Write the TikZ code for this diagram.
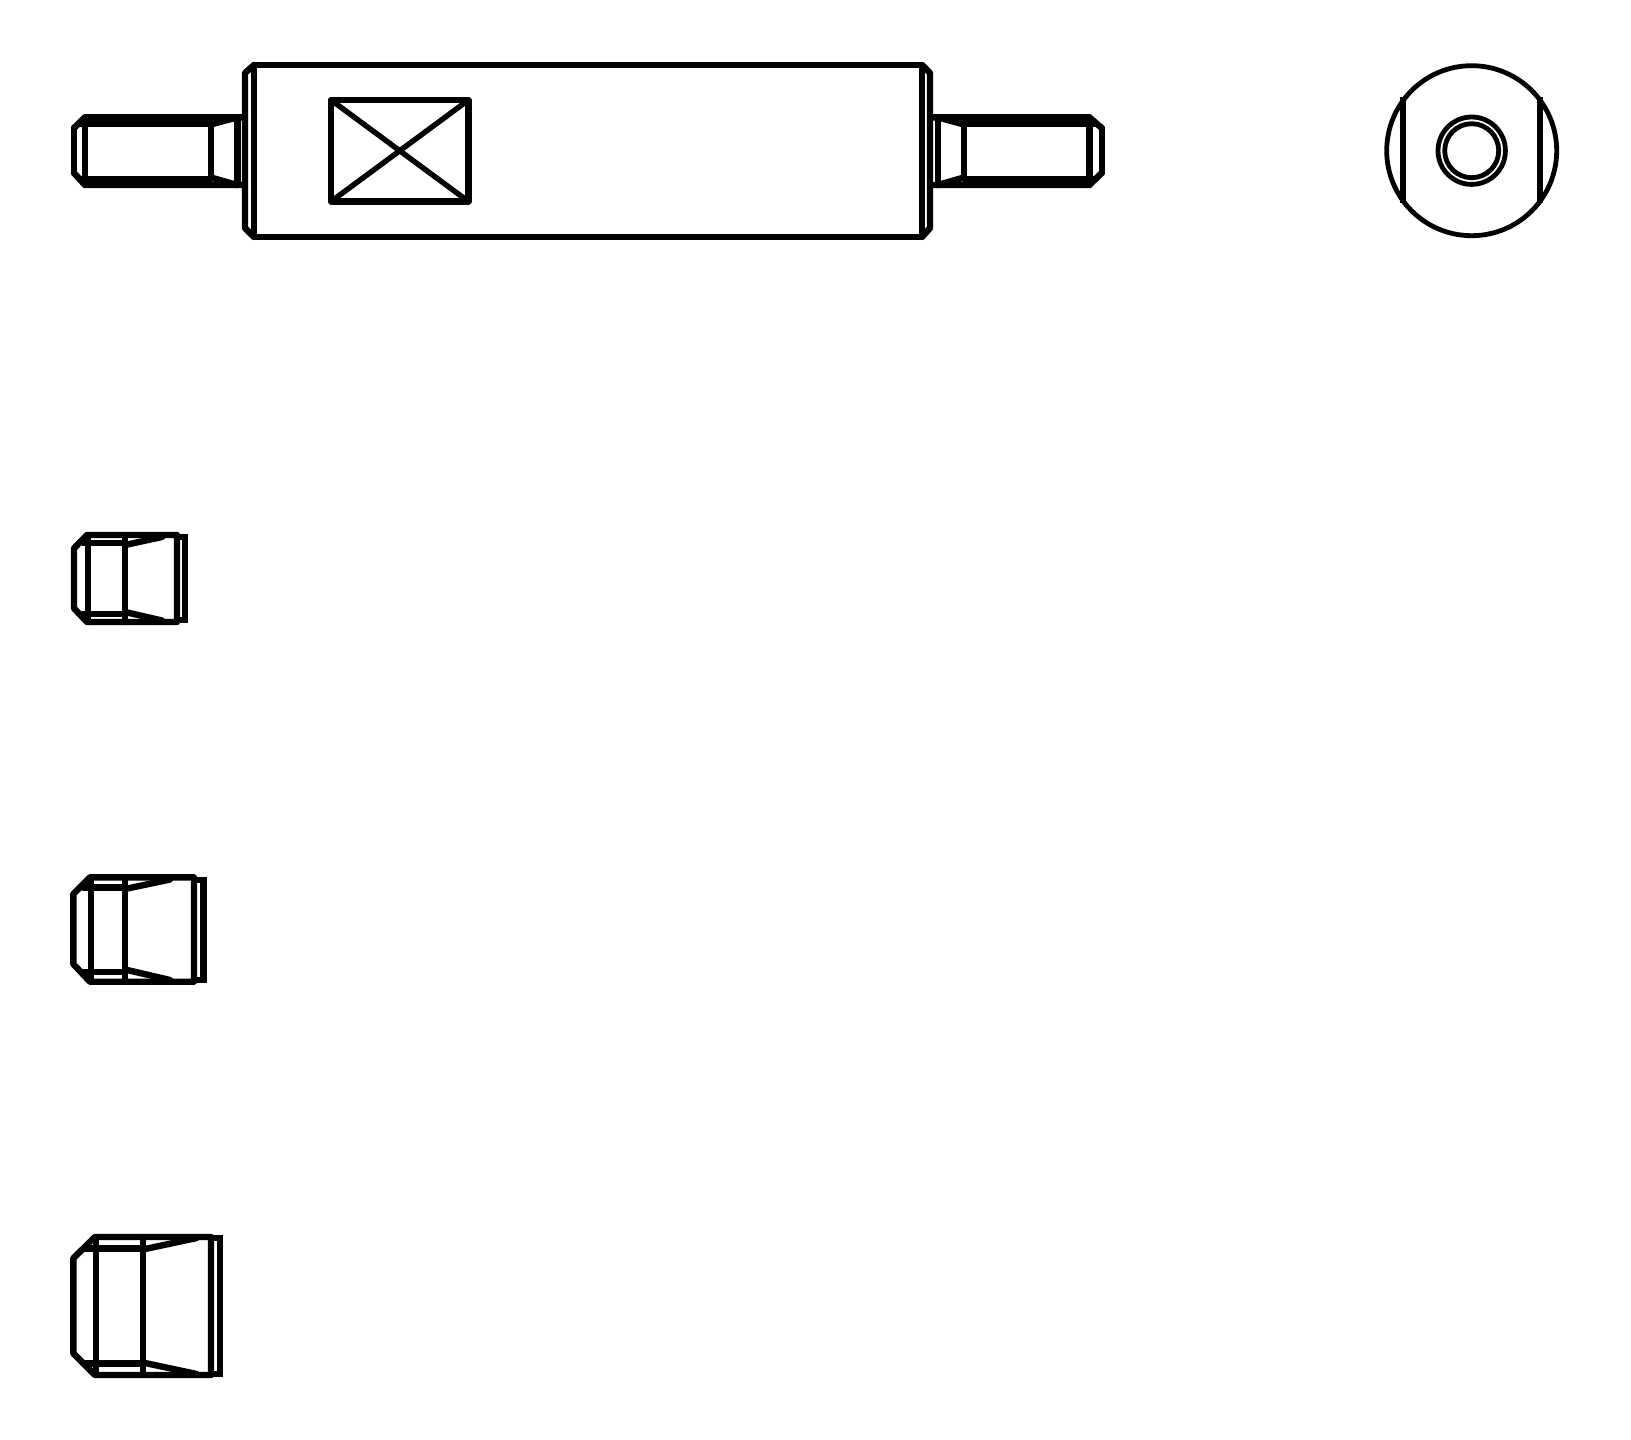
\documentclass[tikz,border=0pt]{standalone}
\tikzset{
  part/.style={line width=6.4pt,line cap=round,line join=round,black},
  thinpart/.style={line width=4.8pt,black},
}
\begin{document}
\begin{tikzpicture}[x=1pt,y=-1pt]
\useasboundingbox[fill=white] (0,0) rectangle (1631,1440);
% main body
\draw[part] (254,65) rectangle (922,237);
\draw[part] (254,65) -- (245,73) -- (245,228) -- (254,237);
\draw[part] (922,65) -- (930,73) -- (930,228) -- (922,237);
% keyway
\draw[part] (331,100) rectangle (468.5,201.5);
\draw[line width=5.4pt,line cap=round] (331,100) -- (468.5,201.5);
\draw[line width=5.4pt,line cap=round] (331,201.5) -- (468.5,100);
% left stud
\draw[part] (74,128) -- (85,117.3) -- (245,117.3);
\draw[part] (74,173) -- (85,185) -- (245,185);
\draw[part] (74,128) -- (74,173);
\draw[part] (80,123.3) -- (210.7,123.3);
\draw[part] (80,178.7) -- (210.7,178.7);
\draw[part] (85,117.3) -- (85,185);
\draw[part] (210.7,123.3) -- (210.7,178.7);
\draw[part] (237.3,117.3) -- (237.3,185);
\draw[part] (210.7,124.5) -- (237.3,117.3);
\draw[part] (210.7,177.5) -- (237.3,185);
% right stud
\draw[part] (1101.7,128) -- (1089.3,117.3) -- (930,117.3);
\draw[part] (1101.7,173) -- (1089.3,185) -- (930,185);
\draw[part] (1101.7,128) -- (1101.7,173);
\draw[part] (1095,123.3) -- (964,123.3);
\draw[part] (1095,178.7) -- (964,178.7);
\draw[part] (1089.3,117.3) -- (1089.3,185);
\draw[part] (964,123.3) -- (964,178.7);
\draw[part] (937.7,117.3) -- (937.7,185);
\draw[part] (964,124.5) -- (937.7,117.3);
\draw[part] (964,177.5) -- (937.7,185);
% end view
\draw[thinpart] (1471.7,150.7) circle[radius=85];
\draw[thinpart] (1471.7,150.7) circle[radius=33.7];
\draw[thinpart] (1471.7,150.7) circle[radius=27];
\draw[part,line cap=butt] (1402.7,97.3) -- (1402.7,203.3);
\draw[part,line cap=butt] (1540,97.3) -- (1540,203.3);
% part A
\draw[part] (74,548.3) -- (87,535) -- (177,535) -- (177,622) -- (87,622) -- (74,608.3) -- cycle;
\draw[part] (83,542.7) -- (125,542.7);
\draw[part] (83,614) -- (125,614);
\draw[part] (87.7,535) -- (87.7,622);
\draw[part] (125,535) -- (125,622);
\draw[part] (125,545) -- (162,537);
\draw[part] (125,612) -- (162,620.5);
\draw[part,line cap=butt,line join=miter] (177,537) -- (185,537) -- (185,620) -- (177,620);
% part B
\draw[part] (73.3,894) -- (90,877.3) -- (194,877.3) -- (194,981.7) -- (90,981.7) -- (73.3,964) -- cycle;
\draw[part] (83,887.3) -- (125,887.3);
\draw[part] (83,971.7) -- (125,971.7);
\draw[part] (91,877.3) -- (91,981.7);
\draw[part] (125,877.3) -- (125,981.7);
\draw[part] (125,889) -- (170,879.5);
\draw[part] (125,969.5) -- (170,980);
\draw[part,line cap=butt,line join=miter] (194,880) -- (203.3,880) -- (203.3,980) -- (194,980);
% part C
\draw[part] (73.3,1258.3) -- (95,1237) -- (211,1237) -- (211,1375) -- (95,1375) -- (73.3,1353.3) -- cycle;
\draw[part] (84,1248.3) -- (142.7,1248.3);
\draw[part] (84,1363.3) -- (142.7,1363.3);
\draw[part] (96,1237) -- (96,1375);
\draw[part] (142.7,1237) -- (142.7,1375);
\draw[part] (142.7,1249.5) -- (196.7,1238);
\draw[part] (142.7,1362.5) -- (196.7,1374);
\draw[part,line cap=butt,line join=miter] (211,1238) -- (220,1238) -- (220,1374) -- (211,1374);
\end{tikzpicture}
\end{document}
